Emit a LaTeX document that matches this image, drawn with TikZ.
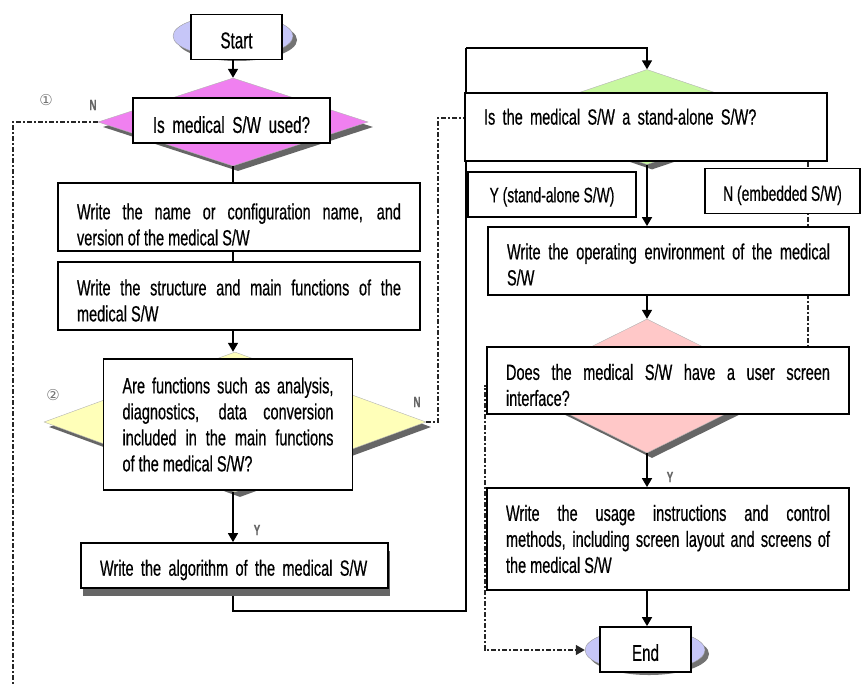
\documentclass[tikz,border=0pt]{standalone}
\usepackage{fontspec}
\setmainfont{Liberation Sans}[FakeStretch=0.66, FakeBold=0.5]
\newfontfamily\circfont{DejaVu Sans}
\usetikzlibrary{shapes.geometric,arrows.meta,shadows,backgrounds}
\hyphenpenalty=10000
\exhyphenpenalty=10000
\tolerance=10000
\newcommand{\lowr}[1][25pt]{\rule{0pt}{#1}}

\definecolor{lilac}{RGB}{198,198,248}
\definecolor{usedpink}{RGB}{240,128,240}
\definecolor{funcyellow}{RGB}{255,255,185}
\definecolor{alonegreen}{RGB}{200,248,160}
\definecolor{screenrose}{RGB}{255,200,200}

\tikzset{
  stepbox/.style={draw, fill=white, line width=1.8pt, inner xsep=19pt, inner ysep=0pt,
    align=justify, font=\fontsize{22}{26}\selectfont},
  termbox/.style={draw, fill=white, line width=1.8pt, minimum width=91pt, minimum height=45pt,
    font=\fontsize{23}{26}\selectfont},
  termoval/.style={ellipse, draw=black!40, fill=lilac, minimum width=120pt, minimum height=42pt,
    drop shadow={shadow xshift=4pt, shadow yshift=-4pt, fill=black!55, opacity=1}},
  decision/.style={diamond, draw=black!30, inner sep=0pt,
    drop shadow={shadow xshift=5pt, shadow yshift=-5pt, fill=black!60, opacity=1}},
  flow/.style={line width=1.6pt, -{Triangle[length=9pt,width=10pt]}},
  plain/.style={line width=1.6pt},
  dashline/.style={line width=1.4pt, black!85, dash pattern=on 5pt off 2pt on 2pt off 2pt},
  flag/.style={text=black!60, font=\bfseries\fontsize{15}{15}\selectfont},
  circled/.style={text=black!55, font=\circfont\fontsize{15}{15}\selectfont}
}

\begin{document}
\begin{tikzpicture}[x=1pt,y=-1pt]
\useasboundingbox (0,0) rectangle (861,683);

\begin{pgfonlayer}{background}
\node[termoval] (startoval) at (233,36) {};
\node[decision, fill=usedpink, minimum width=270pt, minimum height=88pt] (used) at (233,122) {};
\node[decision, fill=funcyellow, minimum width=382pt, minimum height=140pt] (funcs) at (235,422) {};
\node[decision, fill=alonegreen, minimum width=280pt, minimum height=95pt] (alone) at (647,117) {};
\node[decision, fill=screenrose, minimum width=270pt, minimum height=134pt] (screen) at (647,386) {};
\node[termoval] (endoval) at (645,650) {};
\end{pgfonlayer}

\node[termbox] (start) at (236.5,37) {\lowr[23pt]Start};
\node[stepbox, text width=159pt, minimum height=45pt, align=center, font=\fontsize{23}{26}\selectfont] (usedq) at (231.5,120.5) {\lowr Is medical S/W used?};
\node[stepbox, text width=324pt, minimum height=68pt] (name) at (239,217)
  {\lowr[31pt]Write the name or configuration name, and\linebreak version of the medical S/W};
\node[stepbox, text width=324pt, minimum height=68pt] (struct) at (239,296)
  {\lowr Write the structure and main functions of the\linebreak medical S/W};
\node[stepbox, text width=211pt, minimum height=131pt] (funcsq) at (228,424.5)
  {Are functions such as analysis,\linebreak diagnostics, data conversion\linebreak included in the main functions\linebreak of the medical S/W?};
\node[stepbox, text width=269pt, minimum height=45pt, align=left,
  drop shadow={shadow xshift=2pt, shadow yshift=-8pt, fill=black!60, opacity=1}] (algo) at (234.5,565.5)
  {\lowr Write the algorithm of the medical S/W};

\node[stepbox, text width=324pt, minimum height=68pt, align=left] (aloneq) at (646,127)
  {\lowr[29pt]Is the medical S/W a stand-alone S/W?\\ \strut};
\node[termbox, minimum width=168pt, font=\fontsize{21}{22}\selectfont] (yes) at (552,194.5) {\lowr[20pt]Y (stand-alone S/W)};
\node[termbox, minimum width=155pt, font=\fontsize{21}{22}\selectfont] (no) at (782.5,191) {\lowr[24pt]N (embedded S/W)};
\node[stepbox, text width=323pt, minimum height=68pt] (env) at (668.5,261)
  {\lowr[23pt]Write the operating environment of the medical\linebreak S/W};
\node[stepbox, text width=324pt, minimum height=67pt] (screenq) at (668,380.5)
  {\lowr Does the medical S/W have a user screen\linebreak interface?};
\node[stepbox, text width=324pt, minimum height=102pt] (usage) at (668,539)
  {Write the usage instructions and control\linebreak methods, including screen layout and screens of\linebreak the medical S/W};
\node[termbox] (end) at (645.5,649.5) {\lowr[23pt]End};

\node[circled] (mark1) at (46,100) {①};
\node[flag] (nused) at (93,105) {N};
\node[circled] (mark2) at (53,395) {②};
\node[flag] (nfuncs) at (417,402) {N};
\node[flag] (yfuncs) at (257,530) {Y};
\node[flag] (yscreen) at (670,477) {Y};

\coordinate (colL) at (233,0);
\coordinate (colR) at (647,0);
\coordinate (leftbot) at (13,690);
\coordinate (sideN) at (438,118);
\coordinate (jumpbot) at (466,611);
\coordinate (jumptop) at (466,48);
\coordinate (emb) at (808,0);
\coordinate (sideS) at (485,0);

\begin{pgfonlayer}{background}
\draw[flow] (start.south -| colL) -- (used.north);
\draw[plain] (used.south) -- (used.south |- name.north);
\draw[plain] (name.south -| colL) -- (struct.north -| colL);
\draw[flow] (struct.south -| colL) -- (funcs.north -| colL);
\draw[flow] (funcs.south -| colL) -- (algo.north -| colL);
\draw[plain] (algo.south -| colL) |- (jumpbot) -- (jumptop);
\draw[flow] (jumptop) -| (alone.north);
\draw[flow] (alone.south) -- (alone.south |- env.north);
\draw[flow] (env.south -| colR) -- (screen.north);
\draw[flow] (screen.south) -- (screen.south |- usage.north);
\draw[flow] (usage.south -| colR) -- (end.north -| colR);
\draw[dashline] (used.west) -| (leftbot);
\draw[dashline] (funcs.east) -| (sideN) -- (aloneq.west |- sideN);
\draw[dashline] (aloneq.south -| emb) -- (screenq.north -| emb);
\draw[dashline, -{Triangle[length=9pt,width=10pt]}] (screen.west) -| (sideS |- endoval) -- (endoval.west);
\end{pgfonlayer}
\end{tikzpicture}
\end{document}
